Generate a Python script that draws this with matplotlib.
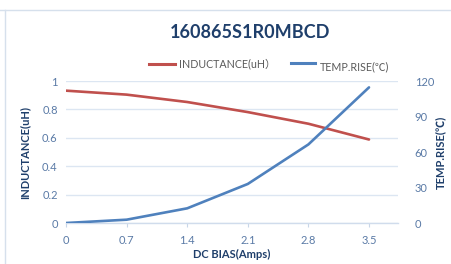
import matplotlib
matplotlib.use('Agg')
from matplotlib import pyplot as plt
from matplotlib.lines import Line2D

plt.rcParams['font.family'] = ['Lato', 'Noto Sans CJK SC', 'DejaVu Sans']

# data
dc_bias = [0, 0.7, 1.4, 2.1, 2.8, 3.5]
inductance = [0.932, 0.904, 0.852, 0.781, 0.699, 0.588]
temp_rise = [0, 2.8, 12.4, 33, 66.4, 114.6]
left_ticks = [0, 0.2, 0.4, 0.6, 0.8, 1]
left_labels = ['0', '0.2', '0.4', '0.6', '0.8', '1']
right_ticks = [0, 30, 60, 90, 120]

red = '#C0504D'
blue = '#4F81BD'
tick_col = '#5A7AA6'
title_col = '#1F3F6B'
grid_col = '#DCE6F2'

fig = plt.figure(figsize=(4.51, 2.64), dpi=100)
# spreadsheet frame lines
fig.add_artist(Line2D([5 / 451, 5 / 451], [0, 1 - 10 / 264], color='#D6E0EC', lw=1))
fig.add_artist(Line2D([0, 1], [1 - 10 / 264, 1 - 10 / 264], color='#D6E0EC', lw=1))

ax = fig.add_axes([66 / 451, 1 - 223 / 264, (398 - 66) / 451, (223 - 81) / 264])
ax2 = ax.twinx()

ax.plot(dc_bias, inductance, color=red, lw=1.9, solid_capstyle='round', zorder=3)
ax2.plot(dc_bias, temp_rise, color=blue, lw=1.9, solid_capstyle='round', zorder=3)

ax.set_xlim(0, 3.835)
ax.set_ylim(0, 1)
ax2.set_ylim(0, 120)
ax.set_xticks(dc_bias)
ax.set_xticklabels([str(v) if v else '0' for v in dc_bias])
ax.set_yticks(left_ticks)
ax.set_yticklabels(left_labels)
ax2.set_yticks(right_ticks)

ax.grid(axis='y', color=grid_col, lw=1)
ax.set_axisbelow(True)
for a in (ax, ax2):
    for s in a.spines.values():
        s.set_visible(False)
ax.spines['bottom'].set_visible(True)
ax.spines['bottom'].set_color('#D0DCEC')
ax.spines['bottom'].set_linewidth(1)

ax.tick_params(axis='x', colors='#C8D6E8', labelcolor=tick_col, labelsize=8, length=3, pad=6)
ax.tick_params(axis='y', length=0, labelcolor=tick_col, labelsize=8, pad=6)
ax2.tick_params(axis='y', length=0, labelcolor=tick_col, labelsize=8, pad=12)

ax.set_xlabel('DC BIAS(Amps)', fontsize=8, fontweight='bold', color=title_col, labelpad=2)
ax.set_ylabel('INDUCTANCE(uH)', fontsize=8, fontweight='bold', color=title_col)
ax2.set_ylabel('TEMP.RISE(℃)', fontsize=8, fontweight='bold', color=title_col, rotation=90)
ax.yaxis.set_label_coords(-0.108, 0.5)
ax2.yaxis.set_label_coords(1.111, 0.5)

fig.text(250 / 451, 1 - 33 / 264, '160865S1R0MBCD', ha='center', va='center',
         fontsize=13, fontweight='bold', color=title_col)

# legend
ly = 1 - 64 / 264
fig.add_artist(Line2D([149 / 451, 175 / 451], [ly, ly], color=red, lw=2.2))
fig.text(179 / 451, ly, 'INDUCTANCE(uH）', ha='left', va='center', fontsize=7.7, color='#595959')
fig.add_artist(Line2D([291 / 451, 315 / 451], [ly + 0.005, ly + 0.005], color=blue, lw=2.2))
fig.text(320 / 451, 1 - 67 / 264, 'TEMP.RISE(℃)', ha='left', va='center', fontsize=7.7, color='#595959')

plt.savefig('out.png', dpi=100)
